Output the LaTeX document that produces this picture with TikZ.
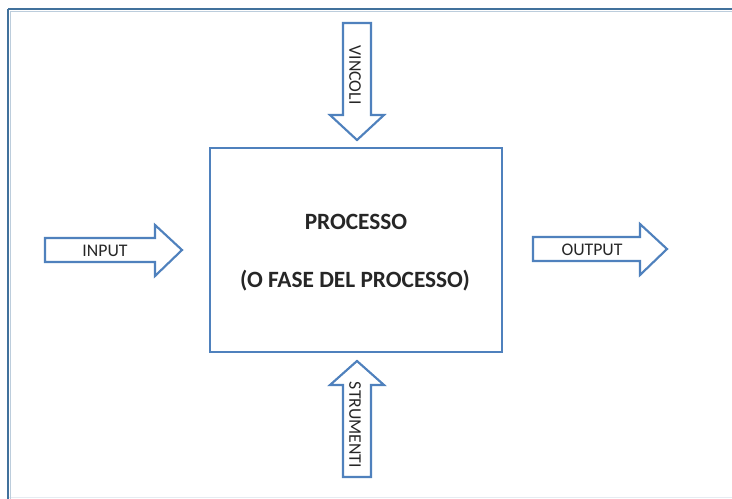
\documentclass[tikz,border=0pt]{standalone}
\usepackage{fontspec}
\setmainfont{Carlito}
\definecolor{frameblue}{HTML}{41719C}
\definecolor{shapeblue}{HTML}{4F81BD}
\definecolor{txt}{HTML}{262626}
\definecolor{faint}{HTML}{E6ECF2}
\begin{document}
\begin{tikzpicture}[x=0.75pt,y=-0.75pt,
  shapeline/.style={draw=shapeblue,line width=1.6pt,fill=white,line join=miter},
  smalllabel/.style={text=txt,font=\fontsize{13.3}{15}\selectfont,inner sep=0pt},
  biglabel/.style={text=txt,font=\bfseries\fontsize{17.5}{20}\selectfont,inner sep=0pt}]
\useasboundingbox (0,0) rectangle (732,499);
\fill[white] (0,0) rectangle (732,499);
% frame
\draw[faint,line width=1.2pt] (8,497.5) -- (732,497.5);
\draw[frameblue!35,line width=1pt] (10.5,11.5) -- (732,11.5);
\draw[frameblue!35,line width=1pt] (10.5,11.5) -- (10.5,499);
\draw[frameblue,line width=2pt] (8,9) -- (732,9);
\draw[frameblue,line width=2pt] (8,9) -- (8,499);
% process box
\draw[shapeline] (210,148) rectangle (502,352);
\node[biglabel] (proc) at (356,222) {PROCESSO};
\node[biglabel] (fase) at (355,281) {(O FASE DEL PROCESSO)};
% VINCOLI arrow (down)
\draw[shapeline] (343,23) -- (371,23) -- (371,115) -- (384,115) -- (357,140) -- (330,115) -- (343,115) -- cycle;
\node[smalllabel,rotate=-90] (vincoli) at (355,75) {VINCOLI};
% STRUMENTI arrow (up)
\draw[shapeline] (357,361) -- (384,385) -- (371,385) -- (371,477) -- (343,477) -- (343,385) -- (330,385) -- cycle;
\node[smalllabel,rotate=-90] (strumenti) at (355,425) {STRUMENTI};
% INPUT arrow
\draw[shapeline] (45,238) -- (155,238) -- (155,225) -- (182,250) -- (155,276) -- (155,262) -- (45,262) -- cycle;
\node[smalllabel] (input) at (105,251) {INPUT};
% OUTPUT arrow
\draw[shapeline] (533,237) -- (640,237) -- (640,224) -- (667,249) -- (640,275) -- (640,261) -- (533,261) -- cycle;
\node[smalllabel] (output) at (592,250) {OUTPUT};
\end{tikzpicture}
\end{document}
